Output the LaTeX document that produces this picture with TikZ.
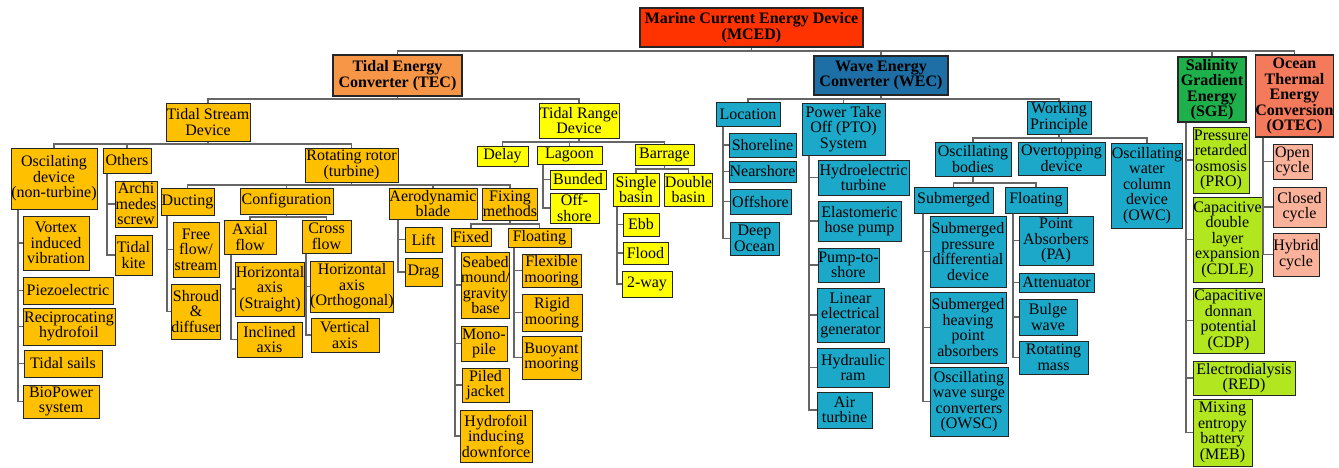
\documentclass[tikz,border=0pt]{standalone}
\usepackage{fontspec}
\setmainfont{Liberation Serif}
\definecolor{cmced}{HTML}{FF3300}
\definecolor{ctec}{HTML}{F79646}
\definecolor{ctsub}{HTML}{FFC000}
\definecolor{ctrng}{HTML}{FFFF00}
\definecolor{cwec}{HTML}{1E6FA5}
\definecolor{cwsub}{HTML}{1CA9C9}
\definecolor{csge}{HTML}{1DB04B}
\definecolor{cssub}{HTML}{B2E61E}
\definecolor{cotec}{HTML}{F57A5C}
\definecolor{cosub}{HTML}{FAB29A}
\definecolor{cline}{HTML}{666666}
\newcommand\mkbox[7]{%
 \pgfmathsetmacro\mybw{#4-#2}%
 \pgfmathsetmacro\mybh{#5-#3}%
 \pgfmathsetmacro\mybx{(#2+#4)/2}%
 \pgfmathsetmacro\myby{(#3+#5)/2}%
 \node[boxst,#6,minimum width=\mybw pt,minimum height=\mybh pt] (#1) at (\mybx,\myby) {#7};}
\newcommand\tre[3]{\draw[conn] (#1.south) -- (#1.south |- 0,#3) -| (#2.north);}
\newcommand\lst[3]{\draw[conn] (#1.south -| #3,0) |- (#2.west);}
\begin{document}
\begin{tikzpicture}[x=1pt,y=-1pt,
 boxst/.style={draw=black!85,line width=1pt,inner sep=0pt,align=center,font=\fontsize{16}{15.5}\selectfont},
 hd/.style={font=\fontsize{16}{15.5}\selectfont\bfseries},
 tsub/.style={fill=ctsub}, trng/.style={fill=ctrng}, wsub/.style={fill=cwsub},
 ssub/.style={fill=cssub}, osub/.style={fill=cosub},
 conn/.style={draw=cline,line width=1.6pt}]
\useasboundingbox (0,0) rectangle (1339,467);
% top level
\mkbox{mced}{640}{8}{863}{47}{fill=cmced,hd,line width=1.4pt}{Marine Current Energy Device\\(MCED)}
\mkbox{tec}{333}{55}{462}{96}{fill=ctec,hd,line width=1.4pt}{Tidal Energy\\Converter (TEC)}
\mkbox{wec}{814}{56}{948}{95}{fill=cwec,hd,line width=1.4pt}{Wave Energy\\Converter (WEC)}
\mkbox{sge}{1178}{57}{1246}{122}{fill=csge,hd,line width=1.4pt}{Salinity\\Gradient\\Energy\\(SGE)}
\mkbox{otec}{1256}{55}{1333}{137}{fill=cotec,hd,line width=1.4pt}{Ocean\\Thermal\\Energy\\Conversion\\(OTEC)}
% tidal
\mkbox{tsd}{166}{103}{250}{141}{tsub}{Tidal Stream\\Device}
\mkbox{trd}{539}{103}{619}{138}{trng}{Tidal Range\\Device}
\mkbox{osc}{11}{148}{97}{209}{tsub}{Oscilating\\device\\(non-turbine)}
\mkbox{oth}{103}{148}{151}{173}{tsub}{Others}
\mkbox{rot}{305}{148}{398}{182}{tsub}{Rotating rotor\\(turbine)}
\mkbox{vor}{23}{216}{89}{270}{tsub}{Vortex\\induced\\vibration}
\mkbox{pie}{23}{277}{113}{304}{tsub}{Piezoelectric}
\mkbox{rec}{23}{308}{115}{345}{tsub}{Reciprocating\\hydrofoil}
\mkbox{sai}{24}{350}{102}{377}{tsub}{Tidal sails}
\mkbox{bio}{23}{385}{99}{418}{tsub}{BioPower\\system}
\mkbox{arc}{115}{181}{157}{227}{tsub}{Archi\\medes\\screw}
\mkbox{kit}{115}{235}{152}{275}{tsub}{Tidal\\kite}
\mkbox{duc}{161}{188}{214}{215}{tsub}{Ducting}
\mkbox{cfg}{240}{188}{333}{214}{tsub}{Configuration}
\mkbox{aer}{389}{188}{477}{219}{tsub}{Aerodynamic\\blade}
\mkbox{fix}{483}{188}{537}{220}{tsub}{Fixing\\methods}
\mkbox{ffl}{173}{222}{219}{277}{tsub}{Free\\flow/\\stream}
\mkbox{shr}{173}{284}{219}{339}{tsub}{Shroud\\\&\\diffuser}
\mkbox{axi}{224}{220}{276}{254}{tsub}{Axial\\flow}
\mkbox{crs}{302}{220}{351}{253}{tsub}{Cross\\flow}
\mkbox{has}{237}{262}{303}{316}{tsub}{Horizontal\\axis\\(Straight)}
\mkbox{inc}{237}{322}{302}{357}{tsub}{Inclined\\axis}
\mkbox{hao}{311}{261}{393}{312}{tsub}{Horizontal\\axis\\(Orthogonal)}
\mkbox{ver}{311}{318}{379}{352}{tsub}{Vertical\\axis}
\mkbox{lif}{405}{227}{442}{252}{tsub}{Lift}
\mkbox{drg}{405}{258}{442}{286}{tsub}{Drag}
\mkbox{fxd}{451}{228}{491}{246}{tsub}{Fixed}
\mkbox{flt}{508}{228}{571}{247}{tsub}{Floating}
\mkbox{sea}{462}{252}{509}{318}{tsub}{Seabed\\mound/\\gravity\\base}
\mkbox{mon}{461}{326}{507}{361}{tsub}{Mono-\\pile}
\mkbox{pil}{462}{368}{509}{402}{tsub}{Piled\\jacket}
\mkbox{hyd}{460}{410}{532}{462}{tsub}{Hydrofoil\\inducing\\downforce}
\mkbox{flx}{522}{254}{581}{287}{tsub}{Flexible\\mooring}
\mkbox{rig}{522}{294}{582}{331}{tsub}{Rigid\\mooring}
\mkbox{buo}{522}{336}{581}{379}{tsub}{Buoyant\\mooring}
\mkbox{del}{477}{146}{528}{166}{trng}{Delay}
\mkbox{lag}{537}{146}{602}{164}{trng}{Lagoon}
\mkbox{bar}{635}{144}{694}{165}{trng}{Barrage}
\mkbox{bun}{550}{170}{606}{189}{trng}{Bunded}
\mkbox{off}{550}{193}{599}{223}{trng}{Off-\\shore}
\mkbox{sin}{613}{173}{659}{206}{trng}{Single\\basin}
\mkbox{dou}{665}{173}{712}{206}{trng}{Double\\basin}
\mkbox{ebb}{623}{213}{659}{236}{trng}{Ebb}
\mkbox{flo}{623}{242}{668}{264}{trng}{Flood}
\mkbox{two}{622}{271}{672}{297}{trng}{2-way}
% wave
\mkbox{loc}{716}{102}{780}{126}{wsub}{Location}
\mkbox{pto}{802}{103}{885}{155}{wsub}{Power Take\\Off (PTO)\\System}
\mkbox{wrk}{1027}{101}{1091}{134}{wsub}{Working\\Principle}
\mkbox{sho}{729}{133}{796}{157}{wsub}{Shoreline}
\mkbox{nea}{729}{161}{796}{182}{wsub}{Nearshore}
\mkbox{ofs}{730}{189}{791}{214}{wsub}{Offshore}
\mkbox{dee}{730}{222}{779}{255}{wsub}{Deep\\Ocean}
\mkbox{hyt}{818}{160}{909}{195}{wsub}{Hydroelectric\\turbine}
\mkbox{ela}{818}{201}{901}{241}{wsub}{Elastomeric\\hose pump}
\mkbox{pum}{818}{248}{879}{282}{wsub}{Pump-to-\\shore}
\mkbox{lin}{817}{288}{884}{342}{wsub}{Linear\\electrical\\generator}
\mkbox{ram}{817}{348}{889}{387}{wsub}{Hydraulic\\ram}
\mkbox{air}{817}{392}{872}{428}{wsub}{Air\\turbine}
\mkbox{obd}{935}{142}{1011}{176}{wsub}{Oscillating\\bodies}
\mkbox{ovt}{1018}{142}{1105}{175}{wsub}{Overtopping\\device}
\mkbox{owc}{1112}{143}{1182}{228}{wsub}{Oscillating\\water\\column\\device\\(OWC)}
\mkbox{sub}{914}{187}{993}{213}{wsub}{Submerged}
\mkbox{wfl}{1005}{187}{1067}{213}{wsub}{Floating}
\mkbox{spd}{930}{216}{1006}{287}{wsub}{Submerged\\pressure\\differential\\device}
\mkbox{shp}{930}{292}{1006}{363}{wsub}{Submerged\\heaving\\point\\absorbers}
\mkbox{ows}{930}{367}{1008}{436}{wsub}{Oscillating\\wave surge\\converters\\(OWSC)}
\mkbox{pa}{1019}{216}{1093}{265}{wsub}{Point\\Absorbers\\(PA)}
\mkbox{att}{1019}{273}{1094}{292}{wsub}{Attenuator}
\mkbox{bul}{1019}{299}{1077}{335}{wsub}{Bulge\\wave}
\mkbox{rmm}{1019}{341}{1088}{374}{wsub}{Rotating\\mass}
% salinity
\mkbox{pro}{1193}{127}{1249}{193}{ssub}{Pressure\\retarded\\osmosis\\(PRO)}
\mkbox{cdl}{1193}{197}{1262}{282}{ssub}{Capacitive\\double\\layer\\expansion\\(CDLE)}
\mkbox{cdp}{1193}{288}{1264}{353}{ssub}{Capacitive\\donnan\\potential\\(CDP)}
\mkbox{red}{1193}{361}{1295}{395}{ssub}{Electrodialysis\\(RED)}
\mkbox{meb}{1193}{399}{1252}{466}{ssub}{Mixing\\entropy\\battery\\(MEB)}
% otec
\mkbox{opn}{1273}{144}{1312}{179}{osub}{Open\\cycle}
\mkbox{clo}{1273}{187}{1326}{227}{osub}{Closed\\cycle}
\mkbox{hyb}{1273}{233}{1319}{276}{osub}{Hybrid\\cycle}
% connectors: buses
\foreach \c in {tec,wec,sge,otec} {\tre{mced}{\c}{51}}
\foreach \c in {tsd,trd} {\tre{tec}{\c}{99}}
\foreach \c in {osc,oth,rot} {\tre{tsd}{\c}{144}}
\foreach \c in {duc,cfg,aer,fix} {\tre{rot}{\c}{185}}
\foreach \c in {axi,crs} {\tre{cfg}{\c}{217}}
\foreach \c in {fxd,flt} {\tre{fix}{\c}{224}}
\foreach \c in {del,lag,bar} {\tre{trd}{\c}{142}}
\foreach \c in {sin,dou} {\tre{bar}{\c}{169}}
\foreach \c in {loc,pto,wrk} {\tre{wec}{\c}{99}}
\foreach \c in {obd,ovt,owc} {\tre{wrk}{\c}{138}}
\foreach \c in {sub,wfl} {\tre{obd}{\c}{183}}
% connectors: lists
\foreach \c in {vor,pie,rec,sai,bio} {\lst{osc}{\c}{18}}
\foreach \c in {arc,kit} {\lst{oth}{\c}{107}}
\foreach \c in {ffl,shr} {\lst{duc}{\c}{167}}
\foreach \c in {has,inc} {\lst{axi}{\c}{231}}
\foreach \c in {hao,ver} {\lst{crs}{\c}{306}}
\foreach \c in {lif,drg} {\lst{aer}{\c}{398}}
\foreach \c in {sea,mon,pil,hyd} {\lst{fxd}{\c}{455}}
\foreach \c in {flx,rig,buo} {\lst{flt}{\c}{514}}
\foreach \c in {bun,off} {\lst{lag}{\c}{543}}
\foreach \c in {ebb,flo,two} {\lst{sin}{\c}{617}}
\foreach \c in {sho,nea,ofs,dee} {\lst{loc}{\c}{723}}
\foreach \c in {hyt,ela,pum,lin,ram,air} {\lst{pto}{\c}{809}}
\foreach \c in {spd,shp,ows} {\lst{sub}{\c}{923}}
\foreach \c in {pa,att,bul,rmm} {\lst{wfl}{\c}{1013}}
\foreach \c in {pro,cdl,cdp,red,meb} {\lst{sge}{\c}{1186}}
\foreach \c in {opn,clo,hyb} {\lst{otec}{\c}{1263}}
\end{tikzpicture}
\end{document}
